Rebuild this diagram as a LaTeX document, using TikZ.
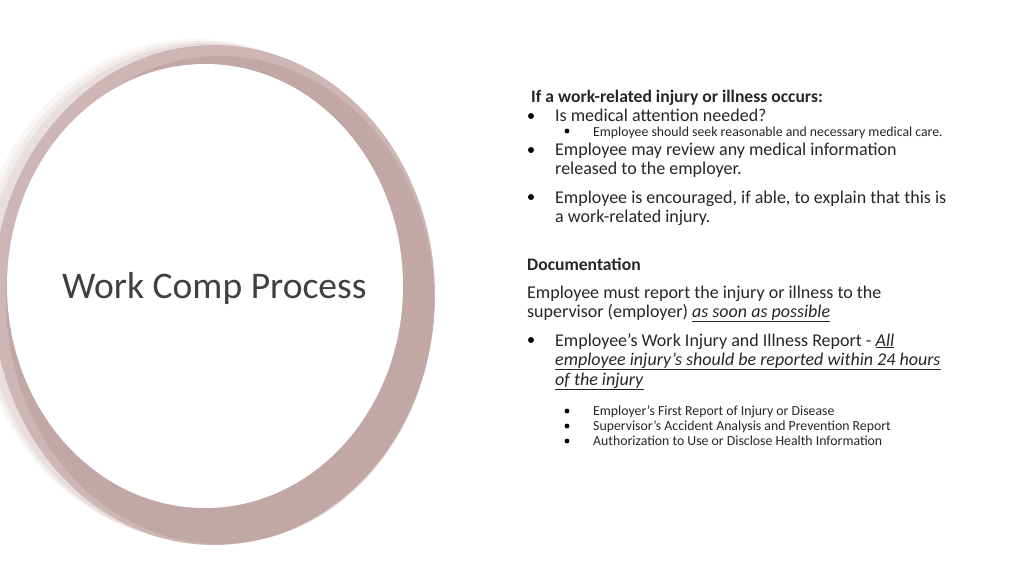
\documentclass[tikz,border=0pt]{standalone}
\usepackage{fontspec}
\setmainfont{Carlito}
\begin{document}
\begin{tikzpicture}[x=1pt,y=-1pt,
  t/.style={anchor=base west,inner sep=0,font=\fontsize{18}{19}\selectfont,text=black!85},
  s/.style={anchor=base west,inner sep=0,font=\fontsize{13.8}{14}\selectfont,text=black!85},
  b/.style={anchor=base west,inner sep=0,font=\fontsize{17.6}{19}\selectfont,text=black!85}]
\useasboundingbox (0,0) rectangle (1024,576);
\definecolor{ringc}{HTML}{CDB6B5}
\definecolor{ringd}{HTML}{B39795}
\clip (0,0) rectangle (1024,576);
\foreach \dx/\dy/\op in {-16/-6/0.12,-11/-4/0.18,-6/-2/0.25}
  \fill[ringc,opacity=\op] (212+\dx,295+\dy) ellipse (222 and 250);
\fill[ringc] (214,295) ellipse (221 and 250);
\fill[ringd,opacity=0.45] (220,300) ellipse (214 and 244);
\fill[white] (205,286) ellipse (198 and 222);
\node[anchor=base west,inner sep=0,font=\fontsize{37.6}{40}\selectfont,text=black!75] (title) at (62,298) {Work Comp Process};
\node[b] (h1) at (531,102) {\textbf{If a work-related injury or illness occurs:}};
\node[t] (a1) at (555,121) {Is medical attention needed?};
\node[s] (a2) at (593,136) {Employee should seek reasonable and necessary medical care.};
\node[t] (a3) at (555,155) {Employee may review any medical information};
\node[t] (a4) at (555,174) {released to the employer.};
\node[t] (a5) at (555,203) {Employee is encouraged, if able, to explain that this is};
\node[t] (a6) at (555,222) {a work-related injury.};
\node[b] (h2) at (527,270) {\textbf{Documentation}};
\node[t] (c1) at (527,298) {Employee must report the injury or illness to the};
\node[t] (c2) at (527,317) {supervisor (employer) \underline{\textit{as soon as possible}}};
\node[t] (c3) at (555,346) {Employee’s Work Injury and Illness Report - \underline{\textit{All}}};
\node[t] (c4) at (555,365) {\underline{\textit{employee injury’s should be reported within 24 hours}}};
\node[t] (c5) at (555,385) {\underline{\textit{of the injury}}};
\node[s] (d1) at (593,415) {Employer’s First Report of Injury or Disease};
\node[s] (d2) at (593,430) {Supervisor’s Accident Analysis and Prevention Report};
\node[s] (d3) at (593,445) {Authorization to Use or Disclose Health Information};
\foreach \x/\y/\r in {531/116/3,567/131/2.4,531/150/3,531/197/3,531/340/3,567/411/2.4,567/426/2.4,567/441/2.4}
  \fill[black] (\x,\y) circle (\r);
\end{tikzpicture}
\end{document}
